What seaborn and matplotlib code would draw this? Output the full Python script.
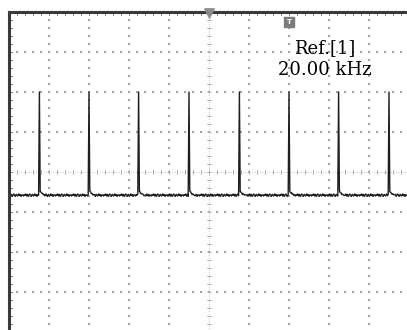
import numpy as np
import pandas as pd
import matplotlib
matplotlib.use("Agg")
import matplotlib.pyplot as plt
import seaborn as sns

# ==============================
# Data (screen divisions)
# ==============================

pulse_times = [0.75, 2.0, 3.25, 4.5, 5.75, 7.0, 8.25, 9.5]
baseline_level = -0.58
pulse_peak = 2.0
# shape of the trace right after each pulse (offset from baseline)
tail_offsets = [0.10, 0.07, 0.05, 0.03, 0.02, 0.01, 0.0]
# hand-read ripple on the baseline, repeated along the trace
ripple = [0.00, 0.03, -0.02, 0.02, -0.03, 0.01, 0.03, -0.01, -0.03, 0.02,
          0.00, -0.02, 0.03, -0.01, 0.02, -0.03, 0.01, 0.00, -0.02, 0.02]

ref_label = "Ref.[1]"
freq_label = "20.00 kHz"

# ==============================
# Build trace
# ==============================

step = 0.02
n = int(10.2 / step)
x = np.arange(n) * step
y = baseline_level + np.array([ripple[i % len(ripple)] for i in range(n)])
for t in pulse_times:
    i0 = int(round(t / step))
    y[i0] = pulse_peak
    for k, off in enumerate(tail_offsets):
        if i0 + 1 + k < n:
            y[i0 + 1 + k] = baseline_level + off + ripple[(i0 + k) % len(ripple)] * 0.5
trace = pd.DataFrame({"t": x, "v": y})

# ==============================
# Figure
# ==============================

sns.set_style("white")
fig = plt.figure(figsize=(4.07, 3.30), dpi=100)
ax = fig.add_axes([9 / 407, -2 / 330, 400 / 407, 320 / 330])
ax.set_xlim(0, 10)
ax.set_ylim(-4, 4)

dot_color = "#a0a0a0"
minor = np.arange(0, 10.01, 0.2)
minor_y = np.arange(-4, 4.01, 0.2)

# dotted grid
for gx in range(1, 10):
    if gx == 5:
        continue
    ax.scatter([gx] * len(minor_y), minor_y, s=0.9, marker="s", color=dot_color, linewidths=0)
for gy in range(-3, 4):
    if gy == 0:
        continue
    ax.scatter(minor, [gy] * len(minor), s=0.9, marker="s", color=dot_color, linewidths=0)

# center cross
ax.plot([5, 5], [-4, 4], color="#c4c4c4", lw=0.7, ls=(0, (1, 1.5)))
ax.plot([0, 10], [0, 0], color="#c4c4c4", lw=0.7, ls=(0, (1, 1.5)))
for m in minor_y:
    ax.plot([4.95, 5.05], [m, m], color="#b0b0b0", lw=0.7)
for m in minor:
    ax.plot([m, m], [-0.05, 0.05], color="#b0b0b0", lw=0.7)

# edge ticks
for m in minor:
    ax.plot([m, m], [4, 3.93], color="#777777", lw=0.7)
for m in minor_y:
    ax.plot([0, 0.07], [m, m], color="#777777", lw=0.7)

# trace
sns.lineplot(data=trace, x="t", y="v", ax=ax, color="#1e1e1e", lw=1.0)

# markers at top
ax.scatter([5], [3.97], marker="v", s=45, color="#8c8c8c", clip_on=False, zorder=5)
ax.scatter([7.0], [3.76], marker="s", s=60, color="#7c7c7c", zorder=5)
ax.text(7.0, 3.76, "T", color="white", fontsize=5, ha="center", va="center",
        fontweight="bold", zorder=6)

ax.text(7.9, 3.1, ref_label, family="DejaVu Serif", fontsize=13, color="black",
        ha="center", va="center")
ax.text(7.9, 2.55, freq_label, family="DejaVu Serif", fontsize=13, color="black",
        ha="center", va="center")

ax.set_xlabel("")
ax.set_ylabel("")
ax.set_xticks([])
ax.set_yticks([])
for side in ["right", "bottom"]:
    ax.spines[side].set_visible(False)
for side in ["left", "top"]:
    ax.spines[side].set_color("#3a3a3a")
    ax.spines[side].set_linewidth(2.2)

plt.savefig("out.png", dpi=100)
plt.close()
